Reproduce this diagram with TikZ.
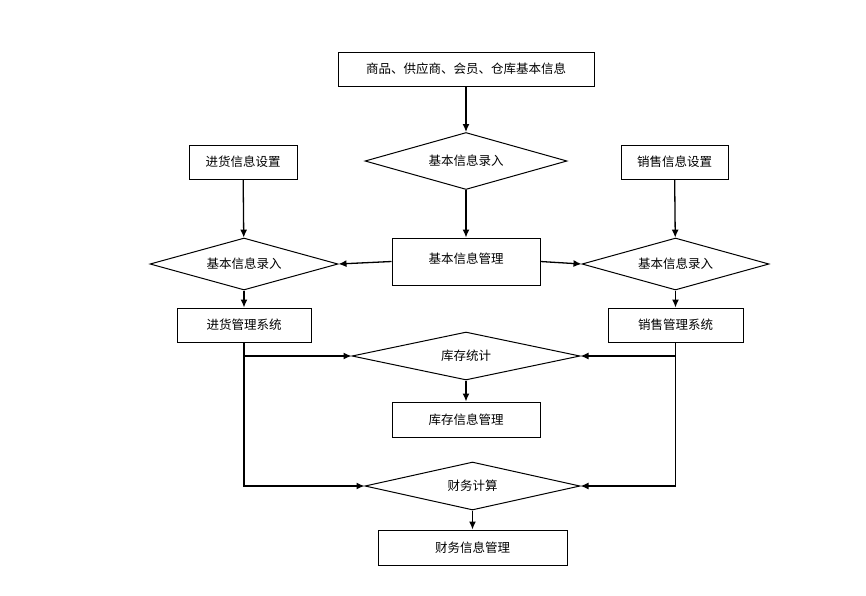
\documentclass[tikz,border=0pt]{standalone}
\usepackage{fontspec}
\newfontfamily\cjk{Noto Sans CJK SC}
\usetikzlibrary{shapes.geometric,arrows.meta,positioning}
\tikzset{
  box/.style={draw, line width=1pt, rectangle, inner sep=0pt, font=\cjk\fontsize{12.5}{15}\selectfont},
  dia/.style={draw, line width=1pt, diamond, aspect=4, inner sep=0pt, font=\cjk\fontsize{12.5}{15}\selectfont},
  arr/.style={-{Latex[length=8pt,width=7pt]}, line width=1.3pt}
}

\begin{document}
\begin{tikzpicture}[x=1pt, y=-1pt]
    \useasboundingbox (0,0) rectangle (866,595);

    \node(top)[box, minimum width=256pt, minimum height=34pt] at (466,69){商品、供应商、会员、仓库基本信息};
    \node(d1)[dia, minimum width=202pt, minimum height=57pt] at (466,161){基本信息录入};
    \node(jset)[box, minimum width=108pt, minimum height=34pt] at (243,162){进货信息设置};
    \node(xset)[box, minimum width=107pt, minimum height=34pt] at (674.5,162){销售信息设置};
    \node(jbgl)[box, minimum width=148pt, minimum height=47pt] at (466,261.5){\raisebox{6pt}{基本信息管理}};
    \node(ldia)[dia, minimum width=188pt, minimum height=52pt] at (244,264){基本信息录入};
    \node(rdia)[dia, minimum width=187pt, minimum height=52pt] at (675.5,264){基本信息录入};
    \node(jgl)[box, minimum width=134pt, minimum height=34pt] at (244,325){进货管理系统};
    \node(xgl)[box, minimum width=135pt, minimum height=34pt] at (675.5,325){销售管理系统};
    \node(kc)[dia, minimum width=228pt, minimum height=48pt] at (466,356){库存统计};
    \node(kcgl)[box, minimum width=148pt, minimum height=35pt] at (466,419.5){库存信息管理};
    \node(cw)[dia, minimum width=215pt, minimum height=48pt] at (472.5,486){财务计算};
    \node(cwgl)[box, minimum width=189pt, minimum height=35pt] at (472.5,547.5){财务信息管理};

    \draw[arr] (top) -- (d1);
    \draw[arr] (d1) -- (jbgl);
    \draw[arr] (jbgl.west) -- (ldia.east);
    \draw[arr] (jbgl.east) -- (rdia.west);
    \draw[arr] (jset) -- (ldia);
    \draw[arr] (xset) -- (rdia);
    \draw[arr] (ldia) -- (jgl);
    \draw[arr] (rdia) -- (xgl);
    \draw[arr] (jgl.south) |- (cw.west);
    \draw[arr] (xgl.south) |- (cw.east);
    \draw[arr] (jgl.south |- kc.west) -- (kc.west);
    \draw[arr] (xgl.south |- kc.east) -- (kc.east);
    \draw[arr] (kc) -- (kcgl);
    \draw[arr] (cw) -- (cwgl);
\end{tikzpicture}
\end{document}
